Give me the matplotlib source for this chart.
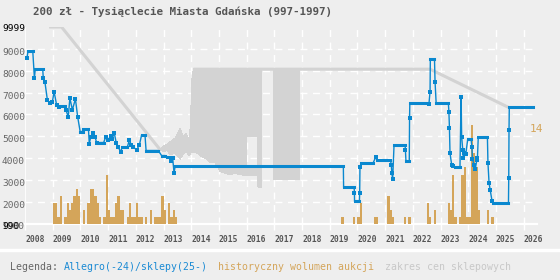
import numpy as np
import matplotlib
matplotlib.use("Agg")
import matplotlib.pyplot as plt

# ---------------- data ----------------
title = "200 zł - Tysiąclecie Miasta Gdańska (997-1997)"
years = list(range(2008, 2027))
ytick_vals = [9000, 8000, 7000, 6000, 5000, 4000, 3000, 2000]

# Allegro price series (decimal year, price)
allegro_t = [2008.07, 2008.11, 2008.28, 2008.34, 2008.37, 2008.64, 2008.66, 2008.72, 2008.81, 2008.90,
             2008.99, 2009.05, 2009.14, 2009.23, 2009.25, 2009.44, 2009.48, 2009.56, 2009.62, 2009.71,
             2009.82, 2009.90, 2009.99, 2010.10, 2010.11, 2010.29, 2010.32, 2010.37, 2010.47, 2010.53,
             2010.59, 2010.64, 2010.84, 2010.91, 2011.01, 2011.09, 2011.15, 2011.22, 2011.29, 2011.37,
             2011.45, 2011.51, 2011.69, 2011.77, 2011.83, 2011.91, 2012.03, 2012.13, 2012.21, 2012.33,
             2012.37, 2012.81, 2012.93, 2013.05, 2013.12, 2013.23, 2013.26, 2013.33, 2013.38, 2013.42,
             2019.49, 2019.50, 2019.88, 2019.89, 2019.895, 2020.07, 2020.08, 2020.09, 2020.13, 2020.56,
             2020.67, 2020.70, 2021.19, 2021.22, 2021.24, 2021.27, 2021.32, 2021.72, 2021.73, 2021.75,
             2021.87, 2021.88, 2021.89, 2022.56, 2022.58, 2022.62, 2022.63, 2022.78, 2022.80, 2022.84,
             2023.28, 2023.30, 2023.32, 2023.34, 2023.40, 2023.46, 2023.52, 2023.70, 2023.74, 2023.76,
             2023.80, 2023.82, 2023.86, 2023.91, 2023.98, 2024.10, 2024.13, 2024.15, 2024.21, 2024.25,
             2024.31, 2024.33, 2024.36, 2024.69, 2024.71, 2024.75, 2024.79, 2024.86, 2024.88, 2025.45,
             2025.46, 2025.47, 2025.48, 2026.35]
allegro_v = [8570, 8900, 8900, 7660, 8070, 8070, 7660, 7475, 6640, 6520,
             6590, 7045, 6440, 6330, 6390, 6390, 6210, 5880, 6745, 6210,
             6710, 5900, 5220, 5220, 5330, 5330, 4660, 4960, 5145, 4960,
             4690, 4715, 4715, 4960, 4840, 5020, 4885, 5170, 4715, 4490,
             4300, 4490, 4490, 4840, 4610, 4500, 4380, 4610, 5070, 5070,
             4350, 4350, 4120, 4120, 4050, 4050, 3850, 4000, 3320, 3650,
             3650, 2660, 2660, 2400, 2020, 2020, 2400, 3590, 3770, 3770,
             4075, 3925, 3925, 3700, 3320, 3040, 4600, 4600, 4380, 3880,
             3880, 5830, 6515, 6515, 6490, 7045, 8530, 8530, 7500, 6515,
             6515, 6130, 5370, 4230, 3700, 3620, 3590, 3590, 6820, 4990,
             4380, 4000, 4230, 4200, 4870, 4870, 4530, 3960, 3700, 3500,
             3920, 4000, 4960, 4960, 3770, 2860, 2550, 2020, 1945, 1945,
             3090, 5300, 6330, 6330]

# shop price range: single line (min == max) parts
shop_line1_t = [2008.87, 2009.32, 2012.87]
shop_line1_v = [9999, 9999, 4400]
shop_line2_t = [2014.08, 2022.62, 2025.44]
shop_line2_v = [8070, 8070, 6330]
# shop price range: band parts (nan = no data)
shop_t = [2012.87, 2012.98, 2013.13, 2013.23, 2013.42, 2013.60, 2013.70, 2013.81, 2013.92, 2013.97,
          2014.02, 2014.08, 2014.20, 2014.32, 2014.50, 2014.68, 2014.86, 2015.04, 2015.22, 2015.40,
          2015.58, 2015.76, 2015.94, 2015.99, 2016.01, 2016.39, 2016.41, 2016.52, 2016.53,
          2016.96, 2017.93]
shop_lo = [4400, 4300, 4350, 4150, 4230, 3950, 4150, 4300, 4100, 4200,
           4300, 4250, 4240, 4100, 4000, 3790, 3790, 3400, 3300, 3250,
           3300, 3250, 3200, 3200, 4990, 4990, 2650, 2650, np.nan,
           3010, 3010]
shop_hi = [4400, 4550, 4650, 4750, 4920, 5370, 5000, 5150, 4850, 5520,
           7580, 8120, 8100, 8100, 8100, 8100, 8100, 8100, 8100, 8100,
           8100, 8100, 8100, 8100, 8100, 8100, 8100, 8100, np.nan,
           8100, 8100]
# lower sub-band under the 2016 gap
shop2_t = [2015.99, 2016.41]
shop2_lo = [3200, 3200]
shop2_hi = [3700, 3700]

# monthly auction volume: months since 2008-01 and counts
vol_month = list(range(12, 66)) + [137, 142, 144, 145, 151, 152, 157, 158, 159, 164, 166,
                                   174, 175, 177, 183, 184, 185, 186, 188, 189, 190, 191,
                                   192, 193, 194, 195, 196, 200, 202]
vol_count = [3, 3, 1, 4, 0, 1, 3, 2, 3, 4, 5, 4, 0, 2, 0, 3, 5, 5, 4, 3,
             1, 0, 1, 7, 2, 1, 1, 3, 4, 2, 2, 0, 1, 3, 1, 1, 3, 1, 1, 0,
             1, 0, 2, 0, 1, 1, 1, 4, 2, 0, 3, 1, 2, 1] + \
            [1, 1, 1, 3, 1, 1, 4, 2, 1, 1, 1,
             3, 1, 2, 3, 2, 7, 1, 1, 7, 8, 1,
             1, 14, 10, 8, 2, 2, 1]
vol_max_label = "14"

legend_parts = [("Legenda: ", "#666666"), ("Allegro(-24)/sklepy(25-)", "#1a8ad4"),
                ("  ", "#666666"), ("historyczny wolumen aukcji", "#d4a55a"),
                ("  ", "#666666"), ("zakres cen sklepowych", "#c8c8c8")]

# ---------------- style ----------------
BG = "#eeeeee"
BLUE = "#0a88cf"
TAN = "#d4a55a"
SHOP = "#d3d3d3"
TXT = "#555555"
MONO = "DejaVu Sans Mono"

W, H = 560, 280
fig = plt.figure(figsize=(W / 100, H / 100), dpi=100, facecolor=BG)
x0, x1, ytop, ybot = 25, 537, 27, 224
ax = fig.add_axes([x0 / W, (H - ybot) / H, (x1 - x0) / W, (ybot - ytop) / H])
ax.set_xlim(2008, 2026.48)
ax.set_ylim(990, 9999)
for s in ax.spines.values():
    s.set_visible(False)

# volume axes (twin, drawn below the price axes)
axv = ax.twinx()
axv.set_ylim(0, 14 * (ybot - ytop) / 99.0)
axv.set_axis_off()
axv.set_zorder(0)
ax.set_zorder(1)
ax.patch.set_visible(False)
axv.patch.set_visible(False)
fig.add_artist(plt.Rectangle((x0 / W, (H - ybot) / H), (x1 - x0) / W, (ybot - ytop) / H,
                             transform=fig.transFigure, color=BG, zorder=-10))

# grid (on the lower axes, so the bars cover it)
dash = (0, (5, 4))
ytr = ax.get_yaxis_transform()
for y in ytick_vals:
    axv.plot([0, 1], [y, y], transform=ytr, color="white", lw=1.0, ls=dash, zorder=0, clip_on=False)
for yr in years[1:]:
    axv.axvline(yr, color="white", lw=1.0, ls=dash, zorder=0)
axv.axvline(2008, color="white", lw=1.2, zorder=0)
axv.plot([0, 1], [990, 990], transform=ytr, color="white", lw=1.6, zorder=0, clip_on=False)

# volume bars
bar_t = [2008 + m / 12.0 for m in vol_month]
axv.bar(bar_t, vol_count, width=1 / 12.0, align="edge", color=TAN, lw=0, zorder=1, antialiased=False)
axv.text(2026.2, 13.4, vol_max_label, color=TAN, fontsize=8, family=MONO, va="center", ha="left")

# shop range
ax.fill_between(shop_t, shop_lo, shop_hi, color=SHOP, lw=0, zorder=2, antialiased=False)
ax.fill_between(shop2_t, shop2_lo, shop2_hi, color=SHOP, lw=0, zorder=2, antialiased=False)
ax.plot(shop_line1_t, shop_line1_v, color=SHOP, lw=2.2, solid_capstyle="butt", zorder=2)
ax.plot(shop_line2_t, shop_line2_v, color=SHOP, lw=2.2, solid_capstyle="butt", zorder=2)

# allegro line
ax.plot(allegro_t, allegro_v, color=BLUE, lw=1.0, zorder=4)
t = np.array(allegro_t)
v = np.array(allegro_v)
flat = np.where(np.isclose(v[1:], v[:-1]))[0]
for i in flat:
    ax.plot([t[i], t[i + 1]], [v[i], v[i]], color=BLUE, lw=2.2, solid_capstyle="projecting", zorder=4)
inflat = np.zeros(len(t), bool)
inflat[flat] = True
inflat[flat + 1] = True
ax.plot(t[~inflat], v[~inflat], ls="none", marker="s", ms=2.5, color=BLUE, mew=0, zorder=5)

# x ticks
ax.set_xticks(years)
ax.set_xticklabels([str(y) for y in years], fontsize=5.8, family=MONO, fontweight="bold", color=TXT)
for lab in ax.get_xticklabels():
    lab.set_horizontalalignment("left")
ax.tick_params(axis="x", length=4, width=1, color="white", pad=4)
ax.set_yticks([])

# y labels
for y in ytick_vals:
    ax.annotate(str(y), xy=(2 / W, y), xycoords=("figure fraction", "data"), xytext=(0, -2.5),
                textcoords="offset points", ha="left", va="center", fontsize=6.8, family=MONO, color="#666666")
ax.annotate("9999", xy=(2 / W, 9999), xycoords=("figure fraction", "data"), xytext=(0, -1),
            textcoords="offset points", ha="left", va="center", fontsize=6.8, family=MONO, color="black")
ax.annotate("1000", xy=(2 / W, 990), xycoords=("figure fraction", "data"), xytext=(0, -2),
            textcoords="offset points", ha="left", va="center", fontsize=6.8, family=MONO, color="#666666")
ax.annotate("990", xy=(2 / W, 990), xycoords=("figure fraction", "data"), xytext=(0, -2),
            textcoords="offset points", ha="left", va="center", fontsize=6.8, family=MONO, color="black")

# title
fig.text(33 / W, 1 - 12 / H, title, fontsize=7.8, family=MONO, fontweight="bold", color=TXT,
         ha="left", va="center")

# separator and legend
fig.add_artist(plt.Line2D([0, 1], [1 - 250 / H, 1 - 250 / H], transform=fig.transFigure, color="white", lw=2.5))
xpos = 10
for txt, col in legend_parts:
    fig.text(xpos / W, 1 - 267 / H, txt, fontsize=7.1, family=MONO, color=col, ha="left", va="center")
    xpos += len(txt) * 5.95

fig.savefig("out.png", dpi=100, facecolor=BG)
